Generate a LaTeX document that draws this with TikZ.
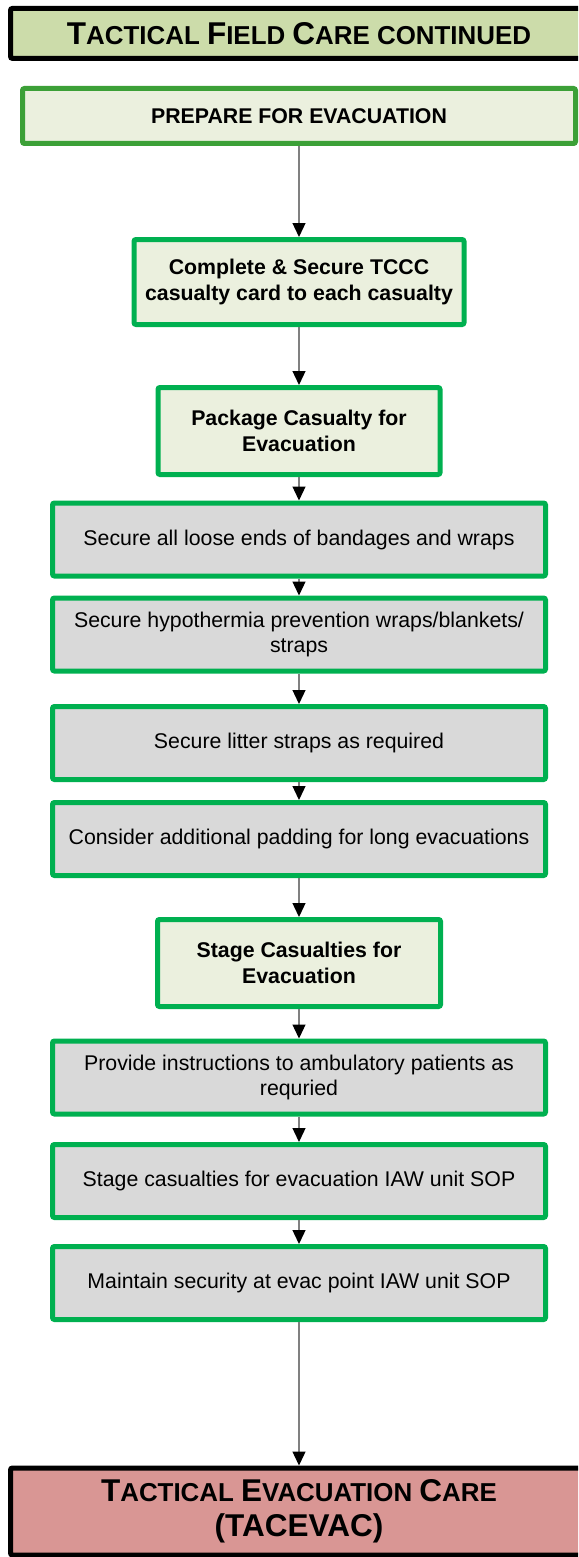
\documentclass[tikz,border=0pt]{standalone}
\usepackage{fontspec}
\setmainfont{Liberation Sans}
\usetikzlibrary{arrows.meta}

\definecolor{hdrgreen}{RGB}{204,220,170}
\definecolor{hdrred}{RGB}{217,150,148}
\definecolor{darkgreen}{RGB}{60,160,55}
\definecolor{brightgreen}{RGB}{0,176,80}
\definecolor{paleolive}{RGB}{235,240,222}
\definecolor{boxgray}{RGB}{217,217,217}
\definecolor{arrowgray}{RGB}{128,128,128}

% small-caps style heading: large initial, smaller capitals after it
\newcommand{\hdrinit}[1]{{\fontsize{31.5}{37}\selectfont #1}}
\newcommand{\hdrrest}[1]{{\fontsize{25.9}{37}\selectfont #1}}

\begin{document}
\begin{tikzpicture}[x=1pt,y=-1pt,
  basebox/.style={line width=5pt, rounded corners=2pt, align=center, inner sep=0pt,
    font=\fontsize{21.3}{25.5}\selectfont},
  headbox/.style={basebox, draw=black, font=\bfseries\fontsize{31.5}{37}\selectfont},
  keybox/.style={basebox, draw=brightgreen, fill=paleolive, font=\bfseries\fontsize{21.3}{25.5}\selectfont},
  graybox/.style={basebox, draw=brightgreen, fill=boxgray, minimum width=493, minimum height=73},
  flow/.style={draw=arrowgray, line width=1.3pt, -{Triangle[length=14pt,width=13pt,color=black]}}
]
\useasboundingbox (0,0) rectangle (578,1557);
\clip (0,0) rectangle (578,1557);

% section headers
\node[headbox, fill=hdrgreen, minimum width=577, minimum height=50] (tfc) at (299,33.4)
  {\hdrinit{T}\hdrrest{ACTICAL }\hdrinit{F}\hdrrest{IELD }\hdrinit{C}\hdrrest{ARE CONTINUED}};

\node[headbox, fill=hdrred, minimum width=577, minimum height=87] (tacevac) at (299,1511.5)
  {\hdrinit{T}\hdrrest{ACTICAL }\hdrinit{E}\hdrrest{VACUATION }\hdrinit{C}\hdrrest{ARE}\\[-2pt] (TACEVAC)};

% main steps
\node[keybox, draw=darkgreen, minimum width=553, minimum height=55] (prep) at (299,116)
  {PREPARE FOR EVACUATION};
\node[keybox, minimum width=330, minimum height=85] (card) at (299,282)
  {Complete \& Secure TCCC\\casualty card to each casualty};
\node[keybox, minimum width=282, minimum height=87] (pack) at (299,431)
  {Package Casualty for\\Evacuation};

\node[graybox] (ends) at (299,539.5) {Secure all loose ends of bandages and wraps};
\node[graybox] (hypo) at (299,634.5) {Secure hypothermia prevention wraps/blankets/\\straps};
\node[graybox] (litter) at (299,743) {Secure litter straps as required};
\node[graybox] (pad) at (299,839) {Consider additional padding for long evacuations};

\node[keybox, minimum width=283, minimum height=87] (stage) at (299,963)
  {Stage Casualties for\\Evacuation};

\node[graybox] (instr) at (299,1077.5) {Provide instructions to ambulatory patients as\\requried};
\node[graybox] (sop) at (299,1181) {Stage casualties for evacuation IAW unit SOP};
\node[graybox] (sec) at (299,1283) {Maintain security at evac point IAW unit SOP};

% connectors
\draw[flow] (prep) -- (card);
\draw[flow] (card) -- (pack);
\draw[flow] (pack) -- (ends);
\draw[flow] (ends) -- (hypo);
\draw[flow] (hypo) -- (litter);
\draw[flow] (litter) -- (pad);
\draw[flow] (pad) -- (stage);
\draw[flow] (stage) -- (instr);
\draw[flow] (instr) -- (sop);
\draw[flow] (sop) -- (sec);
\draw[flow] (sec) -- (tacevac);
\end{tikzpicture}
\end{document}
